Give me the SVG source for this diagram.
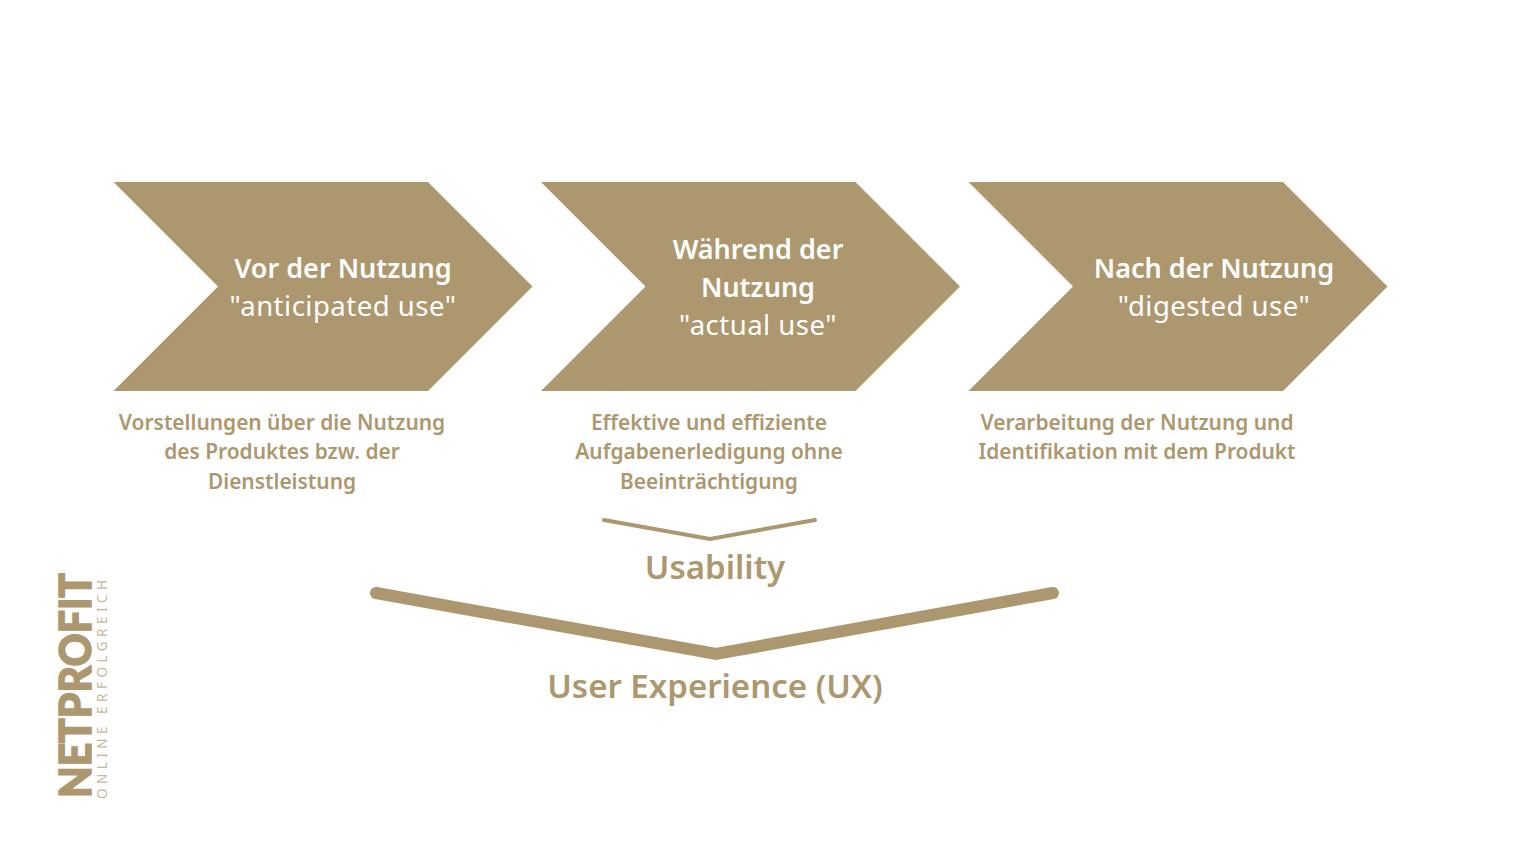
<svg xmlns="http://www.w3.org/2000/svg" width="1516" height="850" viewBox="0 0 1516 850">
<style>
text{font-family:"Noto Sans","Open Sans","DejaVu Sans",sans-serif;text-anchor:middle}
.c{fill:#ad976e}
.h{font-size:27px;font-weight:640;fill:#fff}
.s{font-size:27.5px;font-weight:400;fill:#fff;letter-spacing:.5px}
.d{font-size:20.9px;font-weight:640;fill:#ad976e}
.u{font-size:33px;font-weight:640;fill:#ad976e}
.l{fill:none;stroke:#ad976e;stroke-linecap:round;stroke-linejoin:miter}
.la{text-anchor:start;fill:#ad976e}
</style>
<rect width="1516" height="850" fill="#fff"/>
<g id="node-vor">
<polygon class="c" points="113.500,182 428,182 532.500,286.500 428,391 113.500,391 218,286.500"/>
<text class="h" x="343" y="278">Vor der Nutzung</text>
<text class="s" x="343" y="316">"anticipated use"</text>
<text class="d" x="282" y="430">Vorstellungen über die Nutzung</text>
<text class="d" x="282" y="459">des Produktes bzw. der</text>
<text class="d" x="282" y="489">Dienstleistung</text>
</g>
<g id="node-waehrend">
<polygon class="c" points="541,182 855.500,182 960,286.500 855.500,391 541,391 645.500,286.500"/>
<text class="h" x="758" y="259">Während der</text>
<text class="h" x="758" y="297">Nutzung</text>
<text class="s" x="758" y="335">"actual use"</text>
<text class="d" x="709" y="430">Effektive und effiziente</text>
<text class="d" x="709" y="459">Aufgabenerledigung ohne</text>
<text class="d" x="709" y="489">Beeinträchtigung</text>
</g>
<g id="node-nach">
<polygon class="c" points="968.500,182 1283,182 1387.500,286.500 1283,391 968.500,391 1073,286.500"/>
<text class="h" x="1214" y="278">Nach der Nutzung</text>
<text class="s" x="1214" y="316">"digested use"</text>
<text class="d" x="1137" y="430">Verarbeitung der Nutzung und</text>
<text class="d" x="1137" y="459">Identifikation mit dem Produkt</text>
</g>
<g id="connectors">
<path class="l" stroke-width="4" d="M604 520 L710 539 L815 520"/>
<path class="l" stroke-width="12" d="M376 593 L716 654 L1053 593"/>
</g>
<g id="node-usability"><text class="u" x="715" y="579">Usability</text></g>
<g id="node-ux"><text class="u" x="715" y="698">User Experience (UX)</text></g>
<g id="logo">
<text class="la" transform="translate(91 798) rotate(-90)" textLength="225" lengthAdjust="spacingAndGlyphs" style="font-family:Lato,'Noto Sans',sans-serif;font-size:43px;font-weight:900;stroke:#ad976e;stroke-width:1.500px">NETPROFIT</text>
<text class="la" transform="translate(107 799) rotate(-90)" textLength="219" style="font-size:13.500px;fill-opacity:.7">ONLINE ERFOLGREICH</text>
</g>
</svg>
